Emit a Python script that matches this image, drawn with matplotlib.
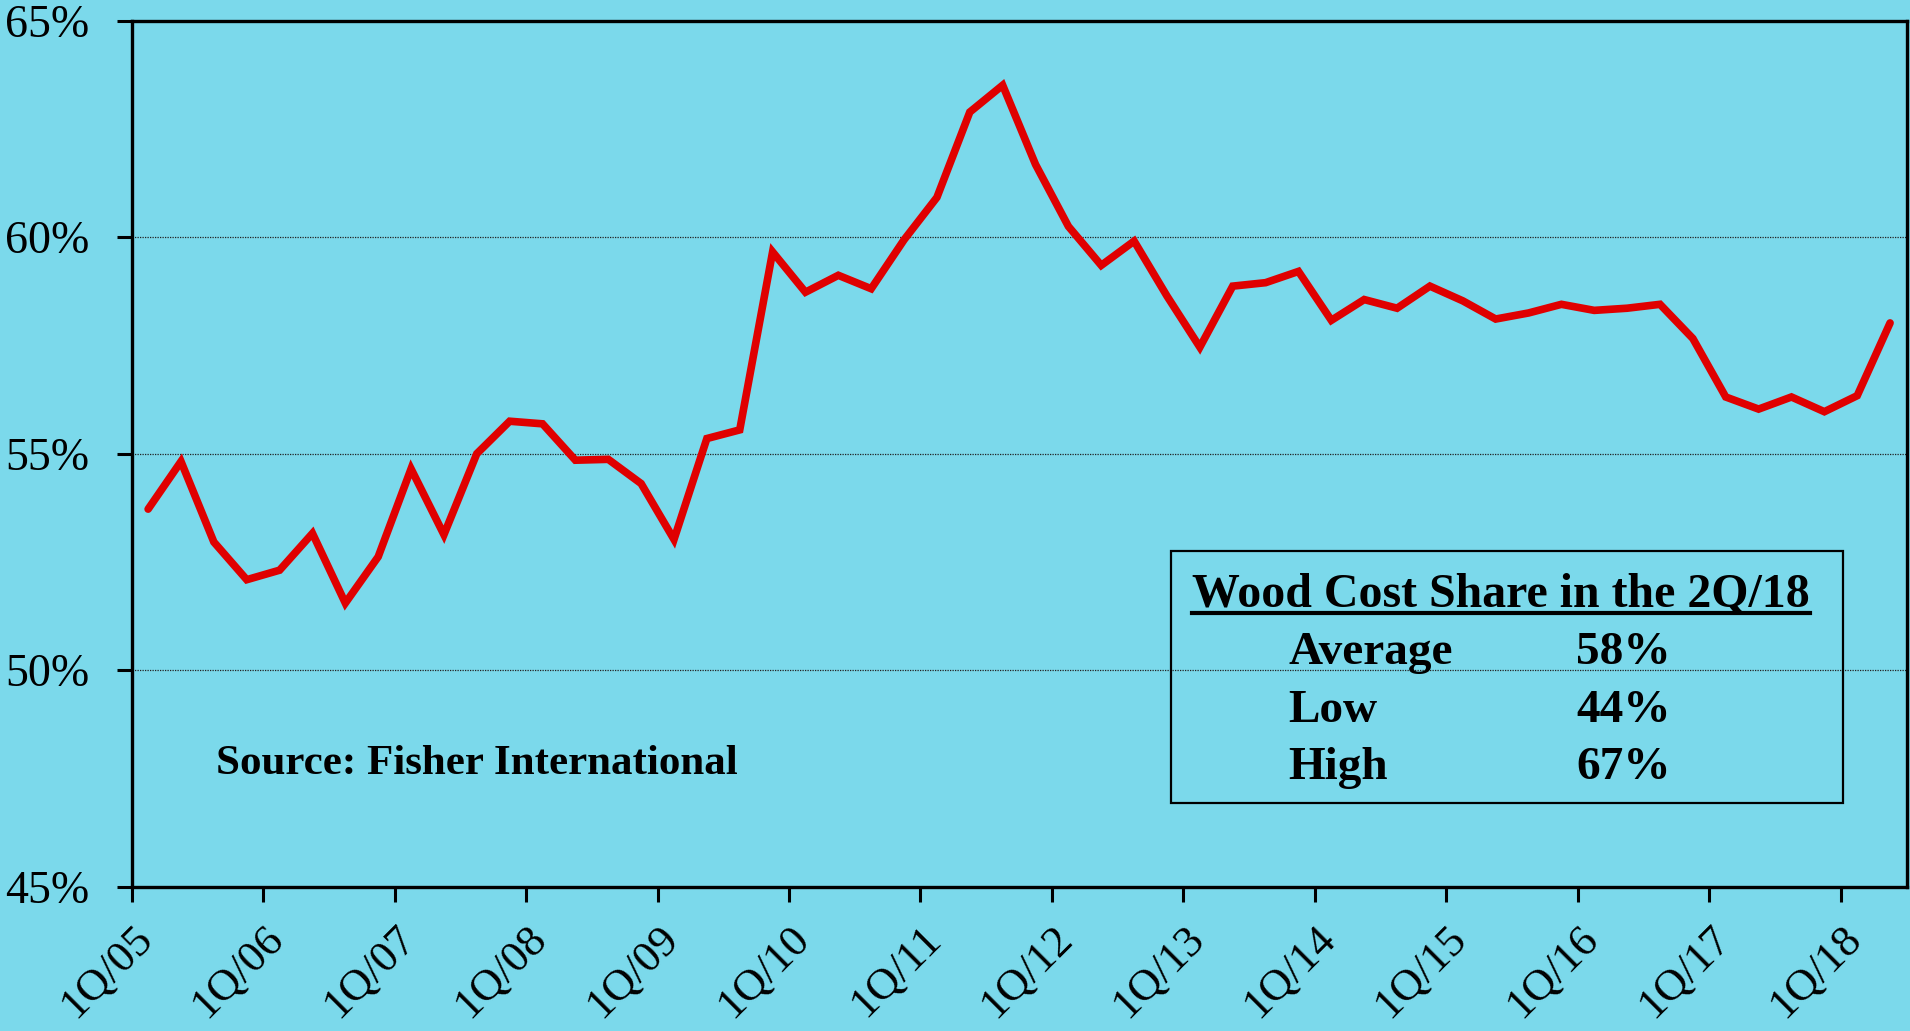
import matplotlib
matplotlib.use("Agg")
import matplotlib.pyplot as plt
import matplotlib.transforms as mtransforms
from matplotlib.patches import Rectangle
from matplotlib.lines import Line2D

# ---- data ----
wood_share = [53.72, 54.82, 52.96, 52.09, 52.31, 53.16, 51.55, 52.62,
              54.65, 53.13, 55.00, 55.75, 55.69, 54.85, 54.87, 54.31,
              53.02, 55.35, 55.55, 59.66, 58.73, 59.12, 58.81, 59.94,
              60.92, 62.89, 63.51, 61.68, 60.25, 59.35, 59.91, 58.64,
              57.46, 58.87, 58.95, 59.21, 58.08, 58.56, 58.36, 58.87,
              58.53, 58.11, 58.25, 58.45, 58.31, 58.36, 58.45, 57.66,
              56.31, 56.03, 56.31, 55.97, 56.34, 58.02]
year_labels = ["1Q/05", "1Q/06", "1Q/07", "1Q/08", "1Q/09", "1Q/10", "1Q/11",
               "1Q/12", "1Q/13", "1Q/14", "1Q/15", "1Q/16", "1Q/17", "1Q/18"]
y_ticks = [45, 50, 55, 60, 65]
box_title = "Wood Cost Share in the 2Q/18"
stat_labels = ["Average", "Low", "High"]
stat_values = ["58%", "44%", "67%"]
source_text = "Source: Fisher International"

BG = "#7BD9EB"
RED = "#E00000"
SERIF = ["Liberation Serif", "DejaVu Serif"]

fig = plt.figure(figsize=(19.10, 10.31), dpi=100, facecolor=BG)
ax = fig.add_axes([0.06895, 0.13996, 0.99817 - 0.06895, 0.97992 - 0.13996])
ax.set_facecolor(BG)

x = list(range(len(wood_share)))
ax.plot(x, wood_share, color=RED, lw=5.5, solid_joinstyle="miter",
        solid_capstyle="round", zorder=3)

ax.set_xlim(-0.5, len(wood_share) - 0.5)
ax.set_ylim(45, 65)

ax.set_yticks(y_ticks)
ax.set_yticklabels([f"{v}%" for v in y_ticks], fontsize=33, family=SERIF)
ax.set_xticks([i * 4 - 0.5 for i in range(len(year_labels))])
ax.set_xticklabels(year_labels, fontsize=32, family=SERIF, rotation=45,
                   ha="right", va="top", rotation_mode="anchor")
offset = mtransforms.ScaledTranslation(0.16, 0, fig.dpi_scale_trans)
for lab in ax.get_xticklabels():
    lab.set_transform(lab.get_transform() + offset)

ax.tick_params(axis="y", length=10.5, width=2.2, pad=20, colors="black")
ax.tick_params(axis="x", length=10.8, width=2.2, pad=12, colors="black")

for s in ax.spines.values():
    s.set_linewidth(2.4)
    s.set_color("black")

for v in [50, 55, 60]:
    ax.axhline(v, color="#222222", lw=0.9, ls=(0, (1, 1)), zorder=1)

# source
fig.text(0.11309, 0.24927, source_text, fontsize=31, fontweight="bold",
         family=SERIF, ha="left", va="baseline")

# stats box
fig.patches.append(Rectangle((0.6131, 0.22114), 0.9649 - 0.6131, 0.46557 - 0.22114,
                             transform=fig.transFigure, fill=False,
                             edgecolor="black", lw=1.6))
t = fig.text(0.6241, 0.41125, box_title, fontsize=34.5, fontweight="bold",
             family=SERIF, ha="left", va="baseline")
fig.canvas.draw()
bb = t.get_window_extent().transformed(fig.transFigure.inverted())
fig.lines.append(Line2D([bb.x0, bb.x1], [0.40543, 0.40543], transform=fig.transFigure,
                        color="black", lw=3))

row_y = [0.35597, 0.29971, 0.24442]
for lbl, val, yy in zip(stat_labels, stat_values, row_y):
    fig.text(0.67435, yy, lbl, fontsize=34, fontweight="bold", family=SERIF,
             ha="left", va="baseline")
    fig.text(0.82513, yy, val, fontsize=34, fontweight="bold", family=SERIF,
             ha="left", va="baseline")

fig.savefig("out.png", dpi=100, facecolor=BG)
